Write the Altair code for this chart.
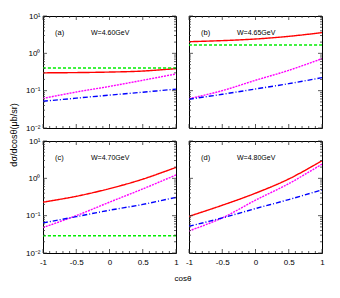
import altair as alt
import pandas as pd

# ---- data ----
cos_theta = [-1.0, -0.5, 0.0, 0.5, 1.0]

a_red = [0.30, 0.305, 0.315, 0.335, 0.39]
a_green = [0.405, 0.405, 0.405, 0.405, 0.405]
a_magenta = [0.062, 0.092, 0.13, 0.19, 0.28]
a_blue = [0.052, 0.063, 0.076, 0.091, 0.11]

b_red = [2.05, 2.19, 2.42, 2.85, 3.58]
b_green = [1.67, 1.67, 1.67, 1.67, 1.67]
b_magenta = [0.061, 0.10, 0.19, 0.35, 0.72]
b_blue = [0.059, 0.080, 0.111, 0.154, 0.223]

c_red = [0.23, 0.33, 0.53, 0.95, 1.96]
c_green = [0.029, 0.029, 0.029, 0.029, 0.029]
c_magenta = [0.048, 0.10, 0.23, 0.52, 1.23]
c_blue = [0.064, 0.094, 0.14, 0.20, 0.31]

d_red = [0.096, 0.19, 0.40, 0.96, 2.95]
d_magenta = [0.039, 0.087, 0.26, 0.72, 2.4]
d_blue = [0.052, 0.087, 0.155, 0.27, 0.49]

panel_tags = ["(a)", "(b)", "(c)", "(d)"]
panel_energy = ["W=4.60GeV", "W=4.65GeV", "W=4.70GeV", "W=4.80GeV"]

x_major = [-1.0, -0.5, 0.0, 0.5, 1.0]
x_minor = [-0.9, -0.8, -0.7, -0.6, -0.4, -0.3, -0.2, -0.1,
           0.1, 0.2, 0.3, 0.4, 0.6, 0.7, 0.8, 0.9]
y_major = [0.01, 0.1, 1.0, 10.0]
y_minor = [0.02, 0.03, 0.04, 0.05, 0.06, 0.07, 0.08, 0.09,
           0.2, 0.3, 0.4, 0.5, 0.6, 0.7, 0.8, 0.9,
           2, 3, 4, 5, 6, 7, 8, 9]

series_names = ["red", "green", "magenta", "blue"]
series_colors = ["#ff0000", "#00ee00", "#ff00ff", "#0000ff"]
series_dash = [[1, 0], [3, 2], [2, 1], [5, 2, 1, 2]]

W, H = 133, 112
FONT = "Liberation Sans"

panels_data = [
    {"red": a_red, "green": a_green, "magenta": a_magenta, "blue": a_blue},
    {"red": b_red, "green": b_green, "magenta": b_magenta, "blue": b_blue},
    {"red": c_red, "green": c_green, "magenta": c_magenta, "blue": c_blue},
    {"red": d_red, "magenta": d_magenta, "blue": d_blue},
]

ylabel_expr = ("datum.value > 5 ? '10\u00b9' : datum.value > 0.5 ? '10\u2070' : "
               "datum.value > 0.05 ? '10\u207b\u00b9' : '10\u207b\u00b2'")


def make_panel(i):
    rows = []
    for s in series_names:
        if s in panels_data[i]:
            for c, v in zip(cos_theta, panels_data[i][s]):
                rows.append({"cos": c, "val": v, "series": s})
    df = pd.DataFrame(rows)

    xscale = alt.Scale(domain=[-1, 1], nice=False, zero=False)
    yscale = alt.Scale(type="log", domain=[0.01, 10], nice=False)

    show_x = i >= 2
    show_y = i % 2 == 0

    if show_x:
        xaxis = alt.Axis(values=x_major, labelExpr="toString(datum.value)",
                         ticks=False, tickSize=0, domain=False, grid=False,
                         labelPadding=5, labelFontSize=8, labelFont=FONT,
                         labelColor="black", labelFlush=False,
                         title="cos\u03b8" if i == 2 else "",
                         titleX=W + 6.5, titleFontSize=8, titleFont=FONT,
                         titleFontWeight="normal", titlePadding=8, titleColor="black")
    else:
        xaxis = None
    if show_y:
        yaxis = alt.Axis(values=y_major, labelExpr=ylabel_expr,
                         ticks=False, tickSize=0, domain=False, grid=False,
                         labelPadding=3, labelFontSize=8, labelFont=FONT,
                         labelColor="black", labelFlush=False,
                         title="d\u03c3/dcos\u03b8(\u03bcb/sr)" if i == 0 else "",
                         titleY=H + 6.5, titleFontSize=9, titleFont=FONT,
                         titleFontWeight="normal", titlePadding=7, titleColor="black")
    else:
        yaxis = None

    lines = alt.Chart(df).mark_line(strokeWidth=1.4, interpolate="catmull-rom", clip=True).encode(
        x=alt.X("cos:Q", scale=xscale, axis=xaxis),
        y=alt.Y("val:Q", scale=yscale, axis=yaxis),
        color=alt.Color("series:N", scale=alt.Scale(domain=series_names, range=series_colors), legend=None),
        strokeDash=alt.StrokeDash("series:N", scale=alt.Scale(domain=series_names, range=series_dash), legend=None),
    )

    layers = [lines]
    tick_color = "#333333"
    for vals, ln in [(y_major, 4), (y_minor, 2)]:
        tdf = pd.DataFrame({"v": vals})
        layers.append(alt.Chart(tdf).mark_rule(color=tick_color, strokeWidth=0.8).encode(
            y=alt.Y("v:Q", scale=yscale, axis=yaxis), x=alt.value(0), x2=alt.value(ln)))
        layers.append(alt.Chart(tdf).mark_rule(color=tick_color, strokeWidth=0.8).encode(
            y=alt.Y("v:Q", scale=yscale, axis=yaxis), x=alt.value(W - ln), x2=alt.value(W)))
    for vals, ln in [(x_major, 4), (x_minor, 2)]:
        tdf = pd.DataFrame({"v": vals})
        layers.append(alt.Chart(tdf).mark_rule(color=tick_color, strokeWidth=0.8).encode(
            x=alt.X("v:Q", scale=xscale, axis=xaxis), y=alt.value(H), y2=alt.value(H - ln)))
        layers.append(alt.Chart(tdf).mark_rule(color=tick_color, strokeWidth=0.8).encode(
            x=alt.X("v:Q", scale=xscale, axis=xaxis), y=alt.value(0), y2=alt.value(ln)))

    tag = alt.Chart(pd.DataFrame({"t": [panel_tags[i]]})).mark_text(
        align="left", baseline="middle", fontSize=7.5, font=FONT, color="black").encode(
        text="t:N", x=alt.value(12), y=alt.value(17))
    energy = alt.Chart(pd.DataFrame({"t": [panel_energy[i]]})).mark_text(
        align="left", baseline="middle", fontSize=7, font=FONT, color="black").encode(
        text="t:N", x=alt.value(48), y=alt.value(17))
    layers += [tag, energy]

    return alt.layer(*layers).properties(width=W, height=H)


chart = alt.concat(*[make_panel(i) for i in range(4)], columns=2, spacing=13,
                   bounds="flush").properties(
    padding={"left": 0, "top": 3, "right": 0, "bottom": 0}
).configure_view(stroke="black", strokeWidth=1).configure_concat(spacing=13)

chart.save("out.html", embed_options={"renderer": "svg", "actions": False})
